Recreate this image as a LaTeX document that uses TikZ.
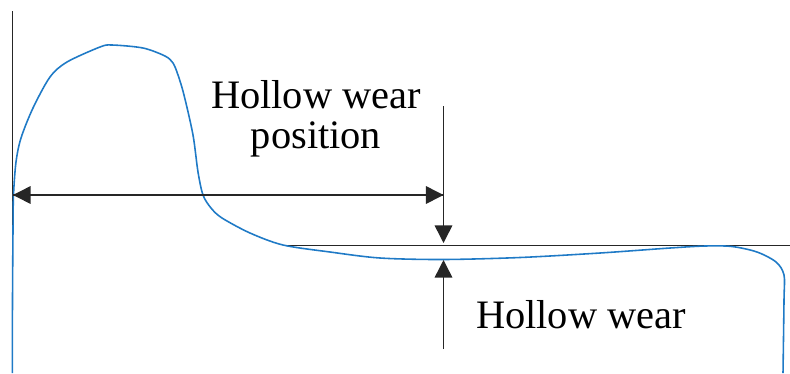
\documentclass[tikz,border=0pt]{standalone}
\usepackage{fontspec}
\setmainfont{Liberation Serif}
\usetikzlibrary{arrows.meta,positioning}
\definecolor{wearBlue}{HTML}{1F7AC6}

\begin{document}
\begin{tikzpicture}[
    x=0.02cm, y=-0.02cm,
    every node/.style={font=\fontsize{23}{22.7}\selectfont, inner sep=0pt},
    refline/.style={black!85, line width=0.85pt},
    dimarrow/.style={refline, -{Triangle[length=10pt, width=10pt]}},
    profile/.style={wearBlue, line width=0.9pt},
  ]
  \useasboundingbox (0,0) rectangle (790,373);

  % Axis and reference line
  \coordinate (axisTop) at (12.5,11);
  \coordinate (axisBot) at (12.5,373);
  \coordinate (refStart) at (283,245.5);
  \coordinate (refEnd) at (790,245.5);
  \draw[refline] (axisTop) -- (axisBot);
  \draw[refline] (refStart) -- (refEnd);

  % Wear profile
  \draw[profile] plot[smooth, tension=0.5] coordinates {
    (12.3,373) (12.5,300) (13,230) (13.5,195) (16,162) (21,138) (33,108) (50,77)
    (67,62) (100,47) (112,45) (143,48) (165,56) (173,63) (178,75)
    (184,95) (193,135) (198,172) (203,195) (211,208) (222,218)
    (250,233) (283,245) (330,252) (380,258) (443,259.5) (520,257.5)
    (600,253) (670,248) (705,246) (732,246.5) (757,252) (776,262)
    (784,275) (784,300) (783,373)};

  % Position dimension
  \coordinate (posStart) at (13,195);
  \coordinate (posEnd) at (443.5,195);
  \draw[dimarrow] (posEnd) -- (posStart);
  \draw[dimarrow] (posStart) -- (posEnd);

  % Depth dimension
  \coordinate (upTop) at (443.5,106);
  \coordinate (upTip) at (443.5,243);
  \coordinate (lowBot) at (443.5,349);
  \coordinate (lowTip) at (443.5,260);
  \draw[dimarrow] (upTop) -- (upTip);
  \draw[dimarrow] (lowBot) -- (lowTip);

  % Labels
  \node[anchor=base, align=center] (posLabel) at (316,148)
    {Hollow wear\\position};
  \node[anchor=base] (wearLabel) at (581,328) {Hollow wear};
\end{tikzpicture}
\end{document}
